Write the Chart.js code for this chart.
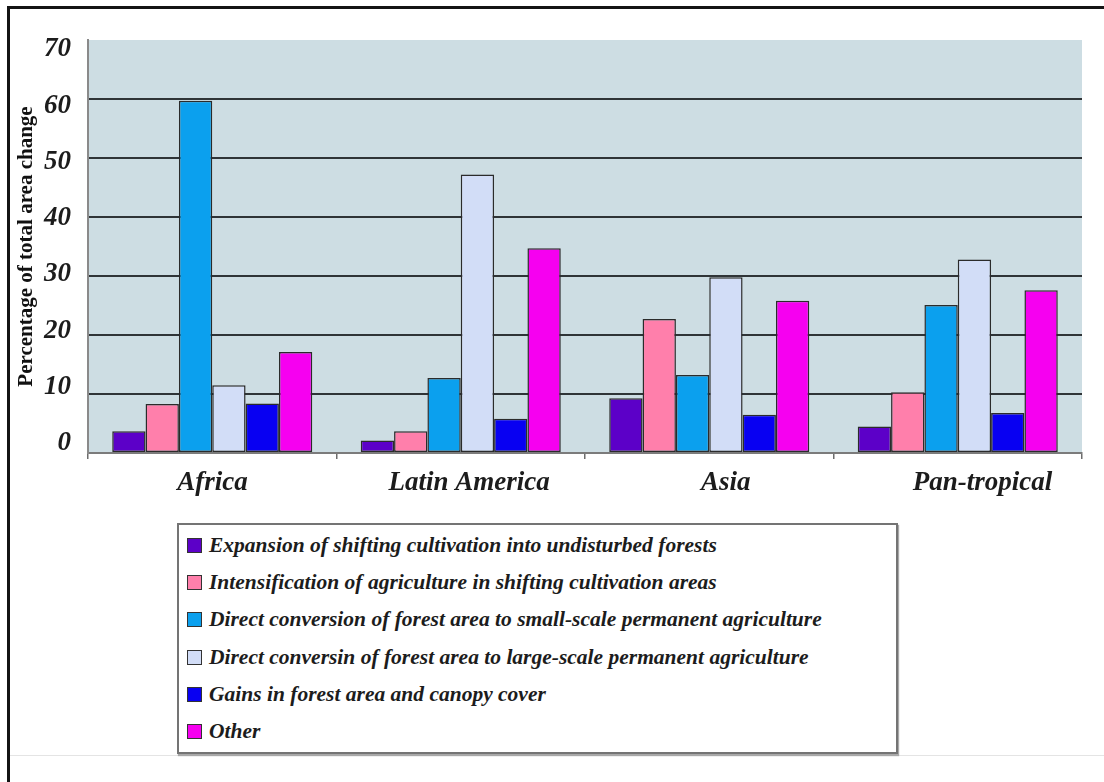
<!DOCTYPE html>
<html>
<head>
<meta charset="utf-8">
<script src="https://cdn.jsdelivr.net/npm/chart.js@4/dist/chart.umd.min.js"></script>
<style>
  html, body { margin: 0; padding: 0; background: #fff; }
  body { width: 1104px; height: 782px; position: relative; overflow: hidden; }
  .frame-top { position: absolute; left: 7px; top: 6px; width: 1097px; height: 3px; background: #141414; }
  .frame-left { position: absolute; left: 7px; top: 6px; width: 3px; height: 776px; background: #141414; }
  .rule { position: absolute; left: 10px; right: 0; top: 755px; height: 1px; background: #e4e4e4; }
  #wrap { position: absolute; left: 0; top: 0; width: 1104px; height: 520px; }
  #legend {
    position: absolute; left: 177px; top: 523px; width: 709px; height: 225px;
    border: 2px solid #747474; box-shadow: 1px 2px 1px #a8a8a8;
    background: #fff; padding: 2px 0 0 8px; box-sizing: content-box;
  }
  #legend .item { display: flex; align-items: center; height: 37.2px; }
  #legend .swatch { width: 13px; height: 13px; border: 1px solid #333; margin-right: 7px; flex: none; }
  #legend .text { font-family: "Liberation Serif", serif; font-weight: bold; font-style: italic;
                  font-size: 21.5px; color: #1c1c1c; white-space: nowrap; }
</style>
</head>
<body>
<div class="frame-top"></div>
<div class="frame-left"></div>
<div class="rule"></div>
<div id="wrap"><canvas id="chart" width="1104" height="520"></canvas></div>
<div id="legend"></div>
<script>
// Regions on the category axis
const regions = ['Africa', 'Latin America', 'Asia', 'Pan-tropical'];

// Share of total forest area change (%) per process, one value per region
const expansionShifting   = [3.7, 2.1, 9.3, 4.5];
const intensificationAgri = [8.3, 3.7, 22.7, 10.3];
const smallScaleAgri      = [59.7, 12.7, 13.2, 25.1];
const largeScaleAgri      = [11.5, 47.2, 29.8, 32.8];
const forestGains         = [8.4, 5.8, 6.5, 6.8];
const otherChange         = [17.1, 34.7, 25.8, 27.6];

// Value axis tick labels
const yTickValues = [0, 10, 20, 30, 40, 50, 60, 70];

const seriesNames = [
  'Expansion of shifting cultivation into undisturbed forests',
  'Intensification of agriculture in shifting cultivation areas',
  'Direct conversion of forest area to small-scale permanent agriculture',
  'Direct conversin of forest area to large-scale permanent agriculture',
  'Gains in forest area and canopy cover',
  'Other'
];
const seriesValues = [expansionShifting, intensificationAgri, smallScaleAgri,
                      largeScaleAgri, forestGains, otherChange];
const seriesColors = ['#5c00c8', '#ff7fab', '#0ba0ee', '#d2ddf7', '#0800f2', '#f600f0'];

const serif = '"Liberation Serif", "Times New Roman", serif';

// Plot area fill behind the grid
const plotBackground = {
  id: 'plotBackground',
  beforeDraw(chart) {
    const { ctx, chartArea: a } = chart;
    ctx.save();
    ctx.fillStyle = '#cddde3';
    ctx.fillRect(a.left, a.top, a.right - a.left, a.bottom - a.top);
    ctx.restore();
  }
};

// Boxed legend below the chart, one entry per line
const htmlLegend = {
  id: 'htmlLegend',
  afterUpdate(chart) {
    const box = document.getElementById('legend');
    box.innerHTML = '';
    const items = chart.options.plugins.legend.labels.generateLabels(chart);
    items.forEach(it => {
      const row = document.createElement('div');
      row.className = 'item';
      const sw = document.createElement('span');
      sw.className = 'swatch';
      sw.style.background = it.fillStyle;
      const tx = document.createElement('span');
      tx.className = 'text';
      tx.textContent = it.text;
      row.appendChild(sw);
      row.appendChild(tx);
      box.appendChild(row);
    });
  }
};

new Chart(document.getElementById('chart'), {
  type: 'bar',
  data: {
    labels: regions,
    datasets: seriesNames.map((name, i) => ({
      label: name,
      data: seriesValues[i],
      backgroundColor: seriesColors[i],
      borderColor: '#2b2b2b',
      borderWidth: 1.5,
      borderSkipped: false,
      xAxisID: 'x',
      yAxisID: 'y'
    }))
  },
  options: {
    responsive: false,
    animation: false,
    devicePixelRatio: 1,
    layout: { padding: { left: 0, right: 22, top: 40, bottom: 16 } },
    datasets: { bar: { barPercentage: 1, categoryPercentage: 0.805 } },
    plugins: {
      legend: { display: false },
      tooltip: { enabled: false },
      title: { display: false }
    },
    scales: {
      x: {
        type: 'category',
        position: 'bottom',
        weight: 0,
        offset: true,
        grid: { display: true, drawOnChartArea: false, drawTicks: true, tickLength: 6,
                offset: true, color: '#6d6d6d', lineWidth: 1.5 },
        border: { display: true, color: '#7b7b7b', width: 2 },
        ticks: { display: false },
        afterFit(s) { s.height = 6; }
      },
      // label row under the bars, spaced on its own linear scale
      xLabels: {
        type: 'linear',
        position: 'bottom',
        weight: 1,
        offset: false,
        min: -0.4856,
        max: 3.388,
        afterBuildTicks(s) { s.ticks = regions.map((_, i) => ({ value: i })); },
        grid: { display: false, drawTicks: false, offset: false },
        border: { display: false },
        ticks: {
          padding: 8,
          maxRotation: 0,
          autoSkip: false,
          color: '#1c1c1c',
          font: { family: serif, size: 27, weight: 'bold', style: 'italic' },
          callback: v => regions[v]
        },
        afterFit(s) { s.height = 45; }
      },
      y: {
        type: 'linear',
        position: 'left',
        weight: 0,
        min: 0,
        max: 70,
        ticks: { display: false, stepSize: 10 },
        grid: {
          drawTicks: false,
          lineWidth: 2,
          color: c => (c.tick && (c.tick.value === 0 || c.tick.value === 70)) ? 'rgba(0,0,0,0)' : '#2f3437'
        },
        border: { display: true, color: '#8a8a8a', width: 2 },
        afterFit(s) { s.width = 8; }
      },
      yLabels: {
        type: 'linear',
        position: 'left',
        weight: 1,
        offset: false,
        beginAtZero: false,
        min: -1.78,
        max: 71.68,
        afterBuildTicks(s) { s.ticks = yTickValues.map(v => ({ value: v })); },
        grid: { display: false, drawTicks: false },
        border: { display: false },
        ticks: {
          padding: 9,
          color: '#1c1c1c',
          font: { family: serif, size: 27, weight: 'bold', style: 'italic' },
          callback: v => String(v)
        },
        title: {
          display: true,
          text: 'Percentage of total area change',
          color: '#111',
          font: { family: serif, size: 21, weight: 'bold' },
          padding: { top: 14, bottom: 0 }
        },
        afterFit(s) { s.width = 80; }
      }
    }
  },
  plugins: [plotBackground, htmlLegend]
});
</script>
</body>
</html>
